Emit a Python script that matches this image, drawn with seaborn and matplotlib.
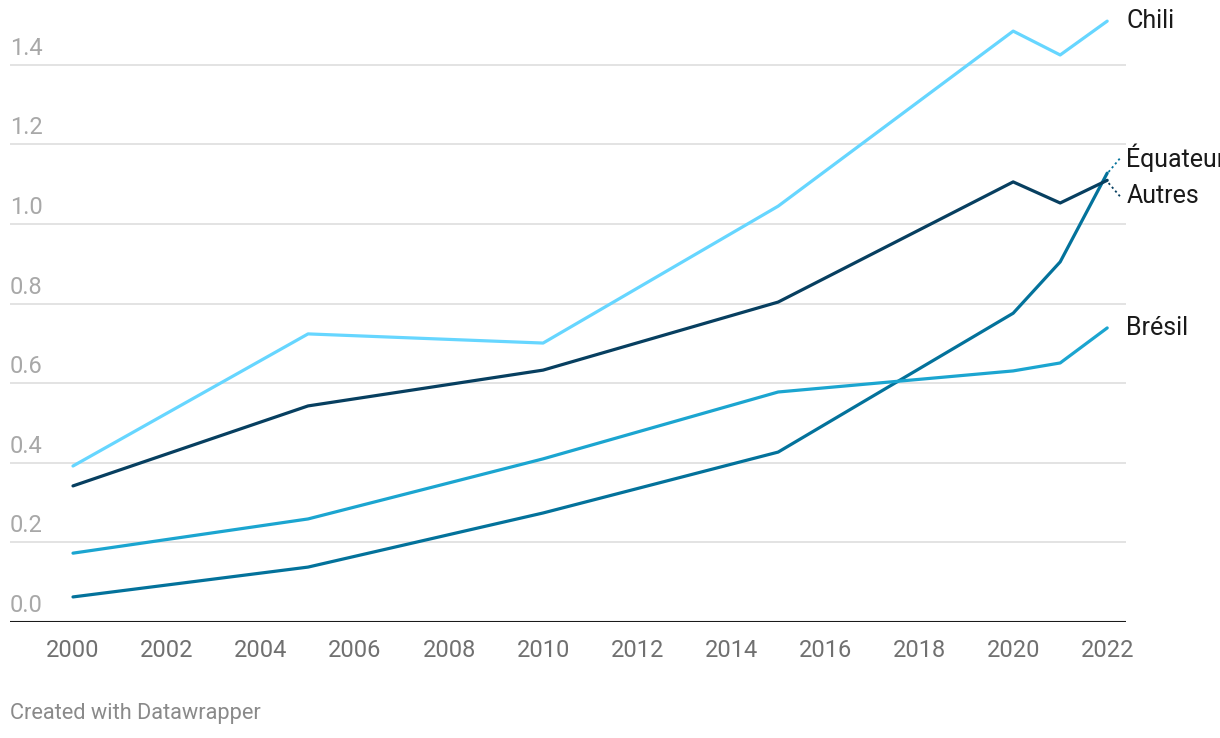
import matplotlib
matplotlib.use("Agg")
import matplotlib.pyplot as plt
import matplotlib.transforms as mtransforms
import seaborn as sns
import pandas as pd

years = [2000, 2005, 2010, 2015, 2020, 2021, 2022]
chili = [0.392, 0.724, 0.701, 1.045, 1.485, 1.425, 1.51]
autres = [0.342, 0.543, 0.633, 0.804, 1.106, 1.053, 1.11]
bresil = [0.173, 0.259, 0.41, 0.578, 0.631, 0.651, 0.739]
equateur = [0.063, 0.138, 0.274, 0.427, 0.776, 0.905, 1.128]
series_names = ["Chili", "Autres", "Brésil", "Équateur"]
y_ticks = [0.0, 0.2, 0.4, 0.6, 0.8, 1.0, 1.2, 1.4]
x_ticks = list(range(2000, 2023, 2))

colors = {"Chili": "#66d6ff", "Autres": "#073f60", "Brésil": "#1ba5d0", "Équateur": "#03729b"}

rows = []
for name, vals in zip(series_names, [chili, autres, bresil, equateur]):
    for yr, v in zip(years, vals):
        rows.append({"year": yr, "value": v, "series": name})
df = pd.DataFrame(rows)

sns.set_theme(style="white")
plt.rcParams["font.family"] = ["Roboto", "DejaVu Sans"]

W, H = 1220, 738
fig = plt.figure(figsize=(W / 100, H / 100), dpi=100)
ax = fig.add_axes([10 / W, (H - 622) / H, (1126 - 10) / W, (622 - 10) / H])

# grid lines
for t in y_ticks[1:]:
    ax.axhline(t, color="#e3e3e3", lw=1.4, zorder=0)
ax.axhline(0, color="#1a1a1a", lw=1.5, zorder=3)

sns.lineplot(data=df, x="year", y="value", hue="series", palette=colors,
             hue_order=["Équateur", "Brésil", "Autres", "Chili"],
             lw=2.3, legend=False, ax=ax, zorder=4, solid_capstyle="round")

ax.set_xlim(1998.66, 2022.40)
ax.set_ylim(0, 1.538)
for s in ax.spines.values():
    s.set_visible(False)
ax.set_yticks([])
ax.set_xticks(x_ticks)
ax.set_xticklabels([str(x) for x in x_ticks], fontsize=17, color="#707070")
ax.tick_params(axis="x", length=0, pad=12)
ax.set_xlabel("")
ax.set_ylabel("")

# y tick labels above gridlines
trans = mtransforms.blended_transform_factory(ax.transAxes, ax.transData)
trans_off = mtransforms.offset_copy(trans, fig=fig, x=0, y=10, units="dots")
for t in y_ticks:
    ax.text(0, t, f"{t:.1f}", transform=trans_off, ha="left", va="baseline",
            fontsize=17, color="#a8a8a8")

# series labels on the right
lab_x = 2022.41
lab_fs = 18
ax.text(lab_x, chili[-1], "Chili", fontsize=lab_fs, color="#1a1a1a", va="center", ha="left", clip_on=False)
ax.text(lab_x, bresil[-1], "Brésil", fontsize=lab_fs, color="#1a1a1a", va="center", ha="left", clip_on=False)
ax.text(lab_x, 1.166, "Équateur", fontsize=lab_fs, color="#1a1a1a", va="center", ha="left", clip_on=False)
ax.text(lab_x, 1.070, "Autres", fontsize=lab_fs, color="#1a1a1a", va="center", ha="left", clip_on=False)
ax.plot([2022.03, 2022.27], [1.131, 1.165], ls=(0, (1.2, 1.6)), color=colors["Équateur"], lw=1.3, clip_on=False)
ax.plot([2022.03, 2022.27], [1.103, 1.070], ls=(0, (1.2, 1.6)), color=colors["Autres"], lw=1.3, clip_on=False)

fig.text(10 / W, 1 - 714 / H, "Created with Datawrapper", fontsize=15.7, color="#8a8a8a",
         ha="left", va="center")

fig.savefig("out.png", dpi=100, facecolor="white")
